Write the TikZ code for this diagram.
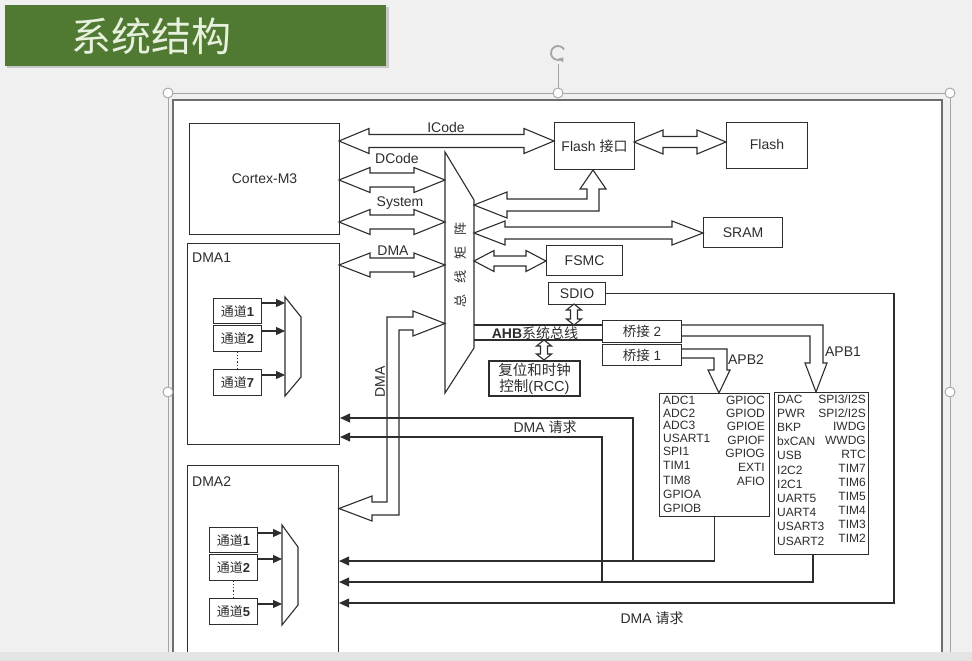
\documentclass[tikz,border=0pt]{standalone}
\usepackage{fontspec}
\setmainfont{Liberation Sans}
\newfontfamily\cjk{Noto Sans CJK SC}
\newcommand\zh[1]{{\cjk #1}}
\usetikzlibrary{arrows.meta,calc}
\definecolor{slidebg}{RGB}{240,240,240}
\definecolor{bannergreen}{RGB}{80,122,50}
\definecolor{bannertext}{RGB}{232,240,222}
\definecolor{ink}{RGB}{45,45,45}
\definecolor{selgray}{RGB}{165,165,165}
\definecolor{framegray}{RGB}{110,110,110}
\definecolor{stripgray}{RGB}{228,228,228}
% horizontal hollow double arrow: x1 x2 y shaft-half head-half head-length
\newcommand\HDA[6]{%
 \draw[fat] (#1,#3) -- ({#1+#6},{#3-#5}) -- ({#1+#6},{#3-#4}) -- ({#2-#6},{#3-#4}) -- ({#2-#6},{#3-#5}) -- (#2,#3) -- ({#2-#6},{#3+#5}) -- ({#2-#6},{#3+#4}) -- ({#1+#6},{#3+#4}) -- ({#1+#6},{#3+#5}) -- cycle;}
% vertical hollow double arrow: x y1 y2 shaft-half head-half head-length
\newcommand\VDA[6]{%
 \draw[fat] (#1,#2) -- ({#1-#5},{#2+#6}) -- ({#1-#4},{#2+#6}) -- ({#1-#4},{#3-#6}) -- ({#1-#5},{#3-#6}) -- (#1,#3) -- ({#1+#5},{#3-#6}) -- ({#1+#4},{#3-#6}) -- ({#1+#4},{#2+#6}) -- ({#1+#5},{#2+#6}) -- cycle;}
\tikzset{
 ln/.style={draw=ink, line width=1.1pt},
 fat/.style={draw=ink, fill=white, line width=1.1pt, line join=miter},
 box/.style={draw=ink, fill=white, line width=1.1pt, inner sep=0pt, anchor=north west, text=ink, font=\fontsize{14}{16}\selectfont},
 chbox/.style={box, minimum width=48pt, font=\fontsize{13}{15}\selectfont},
 lbl/.style={inner sep=0pt, text=ink, font=\fontsize{14}{16}\selectfont},
 per/.style={inner sep=0pt, text=ink, font=\fontsize{12}{13}\selectfont},
 req/.style={ln, -{Triangle[length=10pt,width=9pt]}},
 handle/.style={draw=selgray, fill=white, line width=0.9pt}
}
\begin{document}
\begin{tikzpicture}[x=1pt,y=-1pt]
\useasboundingbox (0,0) rectangle (972,661);
\clip (0,0) rectangle (972,661);
\fill[slidebg] (0,0) rectangle (972,661);
% title banner
\fill[black!22] (7,7) rectangle (389,68);
\fill[bannergreen] (5,5) rectangle (386,66);
\node[inner sep=0pt, font=\cjk\fontsize{40}{44}\selectfont, text=bannertext] (title) at (151,36) {系统结构};
% picture area
\fill[white] (173,100) rectangle (942,661);
\draw[framegray, line width=1.6pt] (173,661) -- (173,100) -- (942,100) -- (942,661);
% selection frame and handles
\draw[selgray, line width=0.9pt] (168,661) -- (168,93) -- (950,93) -- (950,661);
\draw[selgray, line width=0.9pt] (558,93) -- (558,64);
\draw[selgray, line width=1.8pt, -{Triangle[length=4pt,width=6pt]}] (558,53) ++(30:7pt) arc[start angle=30, end angle=320, radius=7pt];
\foreach \hx/\hy [count=\k] in {168/93, 558/93, 950/93, 168/392, 950/392}
  \draw[handle] (\hx,\hy) circle[radius=5pt];

% ---------------- boxes ----------------
\node[box, minimum width=150pt, minimum height=111pt] (cm) at (189,123) {Cortex-M3};
\node[box, minimum width=152pt, minimum height=201pt] (dma1) at (187,243) {};
\node[lbl, anchor=west] (dma1t) at (192,258) {DMA1};
\node[box, minimum width=151pt, minimum height=240pt] (dma2) at (187,465) {};
\node[lbl, anchor=west] (dma2t) at (192,482) {DMA2};

\node[chbox, minimum height=25pt] (a1) at (213,298) {\zh{通道}\textbf{1}};
\node[chbox, minimum height=26pt] (a2) at (213,325) {\zh{通道}\textbf{2}};
\node[chbox, minimum height=26pt] (a7) at (213,369) {\zh{通道}\textbf{7}};
\node[chbox, minimum height=25pt] (b1) at (209,527) {\zh{通道}\textbf{1}};
\node[chbox, minimum height=26pt] (b2) at (209,554) {\zh{通道}\textbf{2}};
\node[chbox, minimum height=26pt] (b5) at (209,598) {\zh{通道}\textbf{5}};
\draw[ink, line width=1.1pt, dotted] (a2.south) -- (a7.north);
\draw[ink, line width=1.1pt, dotted] (b2.south) -- (b5.north);

% multiplexers
\draw[ln, fill=white] (285,297) coordinate (m1a) -- (301,317) -- (301,377) -- (285,396) coordinate (m1b) -- cycle;
\draw[ln, fill=white] (282,525) coordinate (m2a) -- (298,547) -- (298,605) -- (282,625) coordinate (m2b) -- cycle;
\foreach \n/\y in {a1/303, a2/331, a7/375}
  \draw[ln, -{Triangle[length=9pt,width=8pt]}] (\n.east |- 0,\y) -- (285,\y);
\foreach \n/\y in {b1/533, b2/559, b5/604}
  \draw[ln, -{Triangle[length=9pt,width=8pt]}] (\n.east |- 0,\y) -- (282,\y);

% bus matrix
\draw[ln, fill=white] (445,152) coordinate (bmtl) -- (474,200) coordinate (bmtr) -- (474,348) coordinate (bmbr) -- (445,393) coordinate (bmbl) -- cycle;
\node[rotate=90, inner sep=0pt, text=ink, font=\cjk\fontsize{13}{15}\selectfont] (bmt) at (461,265) {总\hspace{11pt}线\hspace{11pt}矩\hspace{11pt}阵};

\node[box, minimum width=80pt, minimum height=47pt] (flashif) at (554,122) {Flash \zh{接口}};
\node[box, minimum width=81pt, minimum height=46pt] (flash) at (726,122) {\raisebox{3pt}{Flash}};
\node[box, minimum width=79pt, minimum height=30pt] (sram) at (703,217) {SRAM};
\node[box, minimum width=76pt, minimum height=30pt] (fsmc) at (546,245) {FSMC};
\node[box, minimum width=57pt, minimum height=22pt] (sdio) at (548,282) {SDIO};
\node[box, minimum width=79pt, minimum height=22pt, font=\fontsize{13.5}{15}\selectfont] (br2) at (602,320) {\zh{桥接} 2};
\node[box, minimum width=79pt, minimum height=21pt, font=\fontsize{13.5}{15}\selectfont] (br1) at (602,344) {\zh{桥接} 1};
\node[box, line width=2pt, minimum width=91pt, minimum height=35pt, align=center, font=\fontsize{14.5}{17}\selectfont] (rcc) at (488,360) {\zh{复位和时钟}\\[-1pt]\zh{控制}(RCC)};

\node[box, minimum width=110pt, minimum height=123pt] (apb2) at (659,393) {};
\node[box, minimum width=94pt, minimum height=162pt] (apb1) at (774,392) {};

% ---------------- fat arrows ----------------
\HDA{339}{554}{141}{6.5}{12.5}{30}
\node[lbl] (icode) at (446,127) {ICode};
\HDA{634}{726}{142}{5.5}{12}{29}
\HDA{339}{445}{180}{7}{12.5}{31}
\node[lbl] (dcode) at (397,158) {DCode};
\HDA{339}{445}{222}{7}{12.5}{31}
\node[lbl] (system) at (400,203) {System};
\HDA{339}{445}{265}{7}{12}{31}
\node[lbl] (dmah) at (393,251) {DMA};
\HDA{474}{703}{233}{6}{12}{31}
\HDA{474}{546}{261}{5}{10.5}{20}
% matrix -> Flash interface (L shaped)
\draw[fat] (474,205) -- (507,192) -- (507,199) -- (587,199) -- (587,189) -- (580,189) -- (593,170) -- (606,189) -- (599,189) -- (599,211) -- (507,211) -- (507,218) -- cycle;
% DMA2 <-> matrix (L shaped)
\draw[fat] (445,323.5) -- (413,311) -- (413,317) -- (387,317) -- (387,502) -- (372,502) -- (372,496) -- (339,508.5) -- (372,521) -- (372,515) -- (399,515) -- (399,330) -- (413,330) -- (413,336) -- cycle;
\node[lbl, rotate=90] (dmav) at (380,382) {DMA};

% AHB bus
\draw[ln] (474,325) -- (br2.west |- 0,325);
\draw[ln] (474,340) -- (br2.west |- 0,340);
\node[lbl] (ahb) at (535,333) {\textbf{AHB}\zh{系统总线}};
\VDA{574}{304}{325}{3.5}{7.5}{6}
\VDA{544}{340}{360}{3.5}{7.5}{6}

% APB2 arrow
\draw[ln, fill=white] (br1.east |- 0,349) -- (727,349) -- (727,370) -- (730,370) -- (719,393) -- (708,370) -- (714,370) -- (714,358) -- (br1.east |- 0,358);
\node[lbl] (apb2t) at (746,360) {APB2};
% APB1 arrow
\draw[ln, fill=white] (br2.east |- 0,325) -- (823,325) -- (823,363) -- (827,363) -- (816,392) -- (805,363) -- (810,363) -- (810,336) -- (br2.east |- 0,336);
\node[lbl] (apb1t) at (843,352) {APB1};

% peripheral lists
\foreach \t/\y [count=\i] in {ADC1/400, ADC2/413, ADC3/425, USART1/438, SPI1/451, TIM1/465, TIM8/480, GPIOA/494, GPIOB/508}
  \node[per, anchor=west] (p2l\i) at (663,\y) {\t};
\foreach \t/\y [count=\i] in {GPIOC/400, GPIOD/413, GPIOE/426, GPIOF/440, GPIOG/453, EXTI/467, AFIO/481}
  \node[per, anchor=east] (p2r\i) at (765,\y) {\t};
\foreach \t [count=\i from 0] in {DAC, PWR, BKP, bxCAN, USB, I2C2, I2C1, UART5, UART4, USART3, USART2}
  \node[per, anchor=west] (p1l\i) at (777,{399+14.2*\i}) {\t};
\foreach \t [count=\i from 0] in {SPI3/I2S, SPI2/I2S, IWDG, WWDG, RTC, TIM7, TIM6, TIM5, TIM4, TIM3, TIM2}
  \node[per, anchor=east] (p1r\i) at (866,{399+13.9*\i}) {\t};

% ---------------- DMA requests ----------------
\coordinate (j1) at (633,561);
\coordinate (j2) at (602,582);
\coordinate (a1b) at (813,554);
\draw[req] (apb2.south) |- (dma2.east |- 0,561);
\draw[req] (a1b) |- (dma2.east |- 0,582);
\draw[req] (sdio.east) -| (894,603) -- (dma2.east |- 0,603);
\draw[req] (j1) |- (dma1.east |- 0,418);
\draw[req] (j2) |- (dma1.east |- 0,437);
\node[lbl] (rq1) at (545,427) {DMA \zh{请求}};
\node[lbl] (rq2) at (652,618) {DMA \zh{请求}};

% bottom strip
\fill[stripgray] (0,652) rectangle (972,661);
\end{tikzpicture}
\end{document}
